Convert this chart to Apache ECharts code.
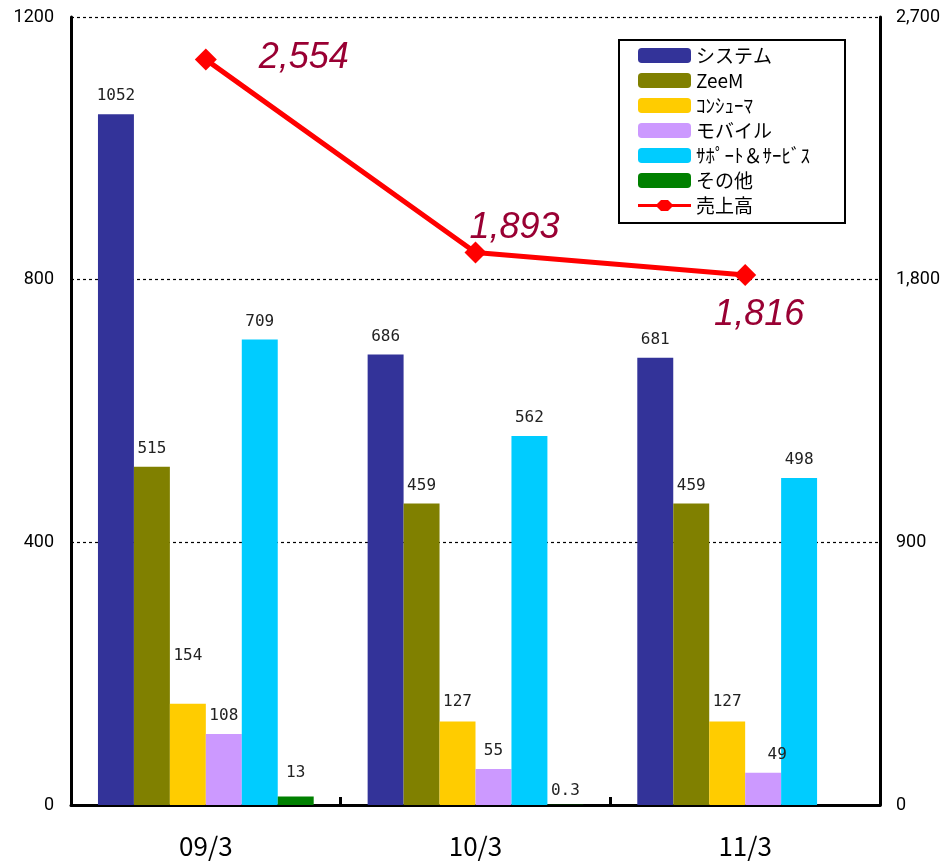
<!DOCTYPE html>
<html>
<head>
<meta charset="utf-8">
<script src="https://cdn.jsdelivr.net/npm/echarts@6/dist/echarts.min.js"></script>
<style>
    html, body { margin: 0; padding: 0; background: #fff; }
    #chart { width: 951px; height: 862px; }
</style>
</head>
<body>
<div id="chart"></div>
<script>
// データ
const categories = ['09/3', '10/3', '11/3'];
const system = [1052, 686, 681];
const zeem = [515, 459, 459];
const consumer = [154, 127, 127];
const mobile = [108, 55, 49];
const support = [709, 562, 498];
const other = [13, 0.3, null];
const sales = [2554, 1893, 1816];

const barNames = ['システム', 'ZeeM', 'ｺﾝｼｭｰﾏ', 'モバイル', 'ｻﾎﾟｰﾄ＆ｻｰﾋﾞｽ', 'その他'];
const barData = [system, zeem, consumer, mobile, support, other];
const barColors = ['#333399', '#808000', '#FFCC00', '#CC99FF', '#00CCFF', '#008000'];

const labelFont = '"Noto Sans CJK JP", sans-serif';
const numFont = '"DejaVu Sans Mono", monospace';

// ラベルの個別調整 [系列][カテゴリ]
const barLabelDistance = [
    [10, 10, 10],
    [10, 10, 10],
    [40, 12, 12],
    [10, 10, 10],
    [10, 10, 10],
    [16, 6, 6]
];

const chart = echarts.init(document.getElementById('chart'));

const barSeries = barNames.map((name, i) => ({
    name: name,
    type: 'bar',
    yAxisIndex: 0,
    data: barData[i].map((v, j) => ({
        value: v,
        label: {
            distance: barLabelDistance[i][j],
            offset: (i === 3 && j === 2) ? [14, 0] : [0, 0]
        }
    })),
    barGap: '0%',
    barCategoryGap: '20%',
    itemStyle: { color: barColors[i] },
    label: {
        show: true,
        position: 'top',
        color: '#222',
        fontSize: 16,
        fontFamily: numFont
    },
    z: 2
}));

// 売上高のラベル位置（点からのずれ）
const salesLabelOffsets = [[98, -2], [39, -25], [14, 40]];

const option = {
    animation: false,
    grid: { left: 71, right: 71, top: 17, bottom: 57 },
    legend: {
        left: 619,
        top: 40,
        orient: 'vertical',
        itemWidth: 53,
        itemHeight: 15,
        itemGap: 6,
        padding: [6, 15, 8, 19],
        borderColor: '#000',
        borderWidth: 2,
        backgroundColor: '#fff',
        textStyle: { fontSize: 19, lineHeight: 15, width: 134, color: '#000', fontFamily: labelFont },
        data: [...barNames, { name: '売上高', icon: 'path://M0,6 L19,6 L23,2 L30,2 L34,6 L53,6 L53,9 L34,9 L30,13 L23,13 L19,9 L0,9 Z' }]
    },
    xAxis: {
        type: 'category',
        data: categories,
        boundaryGap: true,
        axisLine: { lineStyle: { color: '#000', width: 3 } },
        axisTick: { show: true, inside: true, length: 8, lineStyle: { color: '#000', width: 3 } },
        axisLabel: { fontSize: 26, color: '#000', margin: 28, fontFamily: labelFont }
    },
    yAxis: [{
        type: 'value',
        min: 0,
        max: 1200,
        interval: 400,
        axisLine: { show: true, lineStyle: { color: '#000', width: 3 } },
        axisTick: { show: false },
        axisLabel: {
            fontSize: 18, color: '#000', margin: 17, fontFamily: 'Roboto, sans-serif',
            formatter: v => String(v)
        },
        splitLine: { show: true, lineStyle: { color: '#000', type: [3, 3], width: 1.2 } }
    }, {
        type: 'value',
        min: 0,
        max: 2700,
        interval: 900,
        axisLine: { show: true, lineStyle: { color: '#000', width: 3 } },
        axisTick: { show: false },
        axisLabel: {
            fontSize: 18, color: '#000', margin: 16, fontFamily: 'Roboto, sans-serif',
            formatter: v => v.toLocaleString('en-US')
        },
        splitLine: { show: false }
    }],
    series: [
        ...barSeries,
        {
            name: '売上高',
            type: 'line',
            yAxisIndex: 1,
            data: sales.map((v, i) => ({
                value: v,
                label: { offset: salesLabelOffsets[i] }
            })),
            symbol: 'diamond',
            symbolSize: 22,
            lineStyle: { color: '#FF0000', width: 5 },
            itemStyle: { color: '#FF0000' },
            label: {
                show: true,
                position: 'inside',
                color: '#990033',
                fontSize: 36,
                fontStyle: 'italic',
                fontFamily: 'Arial, "Liberation Sans", sans-serif',
                formatter: p => p.value.toLocaleString('en-US')
            },
            z: 5
        }
    ]
};

chart.setOption(option);
</script>
</body>
</html>
